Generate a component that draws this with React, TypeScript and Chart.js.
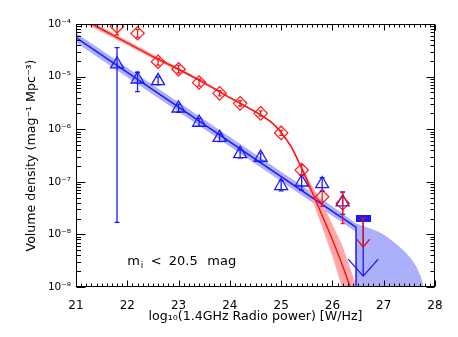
import { useEffect, useRef } from 'react';
import { Chart, registerables } from 'chart.js';

Chart.register(...registerables);

// ---------- axes ----------
const xMin = 21;
const xMax = 28;
const yMin = 1e-9;
const yMax = 1e-4;
const xTickValues = [21, 22, 23, 24, 25, 26, 27, 28];
const yTickValues = [1e-9, 1e-8, 1e-7, 1e-6, 1e-5, 1e-4];
const yTickLabels = ['10⁻⁹', '10⁻⁸', '10⁻⁷', '10⁻⁶', '10⁻⁵', '10⁻⁴'];
const xTitle = 'log₁₀(1.4GHz Radio power) [W/Hz]';
const yTitle = 'Volume density (mag⁻¹ Mpc⁻³)';

// ---------- binned measurements ----------
const binX = [21.8, 22.2, 22.6, 23.0, 23.4, 23.8, 24.2, 24.6, 25.0, 25.4, 25.8, 26.2];
const redY = [9.0e-5, 6.65e-5, 1.92e-5, 1.38e-5, 7.7e-6, 4.8e-6, 3.1e-6, 2.0e-6, 8.5e-7, 1.67e-7, 5.2e-8, 3.9e-8];
const redLo = [6.2e-5, 5.58e-5, 1.65e-5, 1.17e-5, 6.6e-6, 4.3e-6, 2.76e-6, 1.78e-6, 7.6e-7, 1.35e-7, 3.4e-8, 1.6e-8];
const redHi = [1.3e-4, 7.92e-5, 2.23e-5, 1.63e-5, 8.9e-6, 5.4e-6, 3.48e-6, 2.24e-6, 9.5e-7, 2.1e-7, 6.9e-8, 6.2e-8];
const blueY = [1.72e-5, 8.9e-6, 8.3e-6, 2.5e-6, 1.34e-6, 6.9e-7, 3.4e-7, 2.9e-7, 8.4e-8, 9.8e-8, 9.1e-8, 4.1e-8];
const blueLo = [1.7e-8, 5.2e-6, 7.0e-6, 2.1e-6, 1.13e-6, 5.8e-7, 2.85e-7, 2.4e-7, 6.7e-8, 6.9e-8, 6.6e-8, 2.4e-8];
const blueHi = [3.55e-5, 1.21e-5, 9.9e-6, 3.0e-6, 1.6e-6, 8.2e-7, 4.1e-7, 3.5e-7, 1.05e-7, 1.35e-7, 1.2e-7, 6.4e-8];

// ---------- upper limits ----------
const limitX = [26.6];
const redLimitY = [2.04e-8];
const blueLimitY = [2.04e-8];

// ---------- fitted functions ----------
const redFitX = [21.0, 21.5, 22.0, 22.5, 23.0, 23.5, 24.0, 24.5, 24.8, 25.0, 25.2, 25.4, 25.6, 25.8, 26.0, 26.2, 26.4];
const redFitY = [1.45e-4, 7.94e-5, 4.37e-5, 2.4e-5, 1.38e-5, 7.59e-6, 3.98e-6, 2.14e-6, 1.38e-6, 8.71e-7, 4.57e-7, 1.82e-7, 6.46e-8, 2.29e-8, 7.94e-9, 2.51e-9, 7.08e-10];
const redBandX = [21.0, 21.5, 22.0, 22.5, 23.0, 23.5, 24.0, 24.5, 24.8, 25.0, 25.2, 25.4, 25.6, 25.8, 26.0, 26.2, 26.4, 26.6];
const redBandHi = [1.66e-4, 8.91e-5, 4.84e-5, 2.63e-5, 1.48e-5, 8.04e-6, 4.17e-6, 2.24e-6, 1.45e-6, 9.12e-7, 4.9e-7, 2.0e-7, 8.51e-8, 3.98e-8, 1.55e-8, 5.89e-9, 1.62e-9, 4.47e-10];
const redBandLo = [1.26e-4, 7.08e-5, 3.94e-5, 2.19e-5, 1.29e-5, 7.16e-6, 3.8e-6, 2.04e-6, 1.32e-6, 8.32e-7, 4.27e-7, 1.66e-7, 4.79e-8, 1.35e-8, 3.8e-9, 8.9e-10, 2.0e-10, 5.0e-11];

const blueFitX = [21.0, 22.0, 23.0, 24.0, 25.0, 26.0, 26.46, 26.46];
const blueFitY = [5.5e-5, 1.2e-5, 2.63e-6, 5.75e-7, 1.26e-7, 2.75e-8, 1.38e-8, 1e-10];
const blueBandX = [21.0, 22.0, 23.0, 24.0, 25.0, 26.0, 26.46, 26.46, 26.9, 27.2, 27.45, 27.62, 27.72, 27.78, 27.82];
const blueBandHi = [6.76e-5, 1.48e-5, 3.24e-6, 7.08e-7, 1.55e-7, 3.39e-8, 1.62e-8, 1.62e-8, 1.12e-8, 7.1e-9, 4.3e-9, 2.6e-9, 1.6e-9, 9.5e-10, 5.0e-10];
const blueBandLo = [4.47e-5, 9.77e-6, 2.14e-6, 4.68e-7, 1.02e-7, 2.24e-8, 1.12e-8, 1e-10, 1e-10, 1e-10, 1e-10, 1e-10, 1e-10, 1e-10, 1e-10];

// ---------- annotation ----------
const noteX = 22.0;
const noteY = 2.63e-9;

const RED = 'rgb(255,20,20)';
const BLUE = 'rgb(25,25,255)';
const PINK = 'rgb(255,168,168)';
const LIGHTBLUE = 'rgb(172,176,250)';
const FONT = '"DejaVu Sans", sans-serif';

const pts = (xs: number[], ys: number[]) => xs.map((x, i) => ({ x, y: ys[i] }));

const decorations = {
  id: 'decorations',
  afterDatasetsDraw(chart: any) {
    const { ctx, chartArea: a } = chart;
    const xs = chart.scales.x;
    const ys = chart.scales.y;
    ctx.save();
    ctx.beginPath();
    ctx.rect(a.left, a.top, a.right - a.left, a.bottom - a.top);
    ctx.clip();
    const errs = (lo: number[], hi: number[], color: string, cap: number) => {
      ctx.strokeStyle = color;
      ctx.lineWidth = 1.3;
      binX.forEach((xv, i) => {
        const px = xs.getPixelForValue(xv);
        const p1 = ys.getPixelForValue(lo[i]);
        const p2 = ys.getPixelForValue(hi[i]);
        ctx.beginPath();
        ctx.moveTo(px, p1);
        ctx.lineTo(px, p2);
        ctx.moveTo(px - cap, p1);
        ctx.lineTo(px + cap, p1);
        ctx.moveTo(px - cap, p2);
        ctx.lineTo(px + cap, p2);
        ctx.stroke();
      });
    };
    errs(blueLo, blueHi, BLUE, 2.5);
    errs(redLo, redHi, RED, 2);

    const arrow = (xv: number, yv: number, color: string, len: number, hw: number, hh: number, cap: number) => {
      const px = xs.getPixelForValue(xv);
      const py = ys.getPixelForValue(yv);
      ctx.strokeStyle = color;
      ctx.lineWidth = 1.3;
      ctx.beginPath();
      ctx.moveTo(px, py);
      ctx.lineTo(px, py + len);
      ctx.moveTo(px - hw, py + len - hh);
      ctx.lineTo(px, py + len);
      ctx.lineTo(px + hw, py + len - hh);
      if (cap > 0) {
        ctx.moveTo(px - cap, py);
        ctx.lineTo(px + cap, py);
      }
      ctx.stroke();
    };
    limitX.forEach((xv, i) => {
      arrow(xv, blueLimitY[i], BLUE, 58, 15, 17, 0);
      arrow(xv, redLimitY[i], 'rgb(220,20,20)', 29, 6.5, 8, 3.5);
    });
    ctx.restore();
  },
  afterDraw(chart: any) {
    const { ctx, chartArea: a } = chart;
    const xs = chart.scales.x;
    const ys = chart.scales.y;
    ctx.save();
    ctx.strokeStyle = '#000';
    ctx.lineWidth = 1;
    const L = Math.round(a.left) + 0.5;
    const R = Math.round(a.right) - 0.5;
    const T = Math.round(a.top) + 0.5;
    const B = Math.round(a.bottom) - 0.5;
    ctx.strokeRect(L, T, R - L, B - T);
    ctx.beginPath();
    // x ticks (major + 10 minor intervals)
    for (let k = 0; k < xTickValues.length; k++) {
      const v = xTickValues[k];
      const steps = k < xTickValues.length - 1 ? 10 : 1;
      for (let m = 0; m < steps; m++) {
        const val = v + (m * (xTickValues[1] - xTickValues[0])) / 10;
        const p = Math.round(xs.getPixelForValue(val)) + 0.5;
        const len = m === 0 ? 6 : 3;
        ctx.moveTo(p, B);
        ctx.lineTo(p, B - len);
        ctx.moveTo(p, T);
        ctx.lineTo(p, T + len);
      }
    }
    // y ticks (decades + 2..9 minors)
    yTickValues.forEach((d, k) => {
      const p = Math.round(ys.getPixelForValue(d)) + 0.5;
      ctx.moveTo(L, p);
      ctx.lineTo(L + 9, p);
      ctx.moveTo(R, p);
      ctx.lineTo(R - 8, p);
      if (k < yTickValues.length - 1) {
        for (let m = 2; m <= 9; m++) {
          const q = Math.round(ys.getPixelForValue(d * m)) + 0.5;
          ctx.moveTo(L, q);
          ctx.lineTo(L + 4.5, q);
          ctx.moveTo(R, q);
          ctx.lineTo(R - 4, q);
        }
      }
    });
    ctx.stroke();

    // annotation m_i < 20.5 mag
    const nx = xs.getPixelForValue(noteX);
    const ny = ys.getPixelForValue(noteY);
    ctx.fillStyle = '#000';
    ctx.textAlign = 'left';
    ctx.textBaseline = 'alphabetic';
    ctx.font = `13px ${FONT}`;
    ctx.fillText('m', nx, ny);
    ctx.fillText('<', nx + 23.5, ny);
    ctx.fillText('20.5', nx + 41.5, ny);
    ctx.fillText('mag', nx + 80, ny);
    ctx.font = `9px ${FONT}`;
    ctx.fillText('i', nx + 13.5, ny + 3);
    ctx.restore();
  },
};

export default function App() {
  const canvasRef = useRef<HTMLCanvasElement | null>(null);

  useEffect(() => {
    if (!canvasRef.current) return;
    Chart.defaults.font.family = FONT;

    const rectMark = document.createElement('canvas');
    rectMark.width = 15;
    rectMark.height = 7;
    const rc = rectMark.getContext('2d');
    if (rc) {
      rc.fillStyle = BLUE;
      rc.fillRect(0, 0, 15, 7);
    }

    const chart = new Chart(canvasRef.current, {
      type: 'scatter',
      data: {
        datasets: [
          {
            label: 'blue band hi', data: pts(blueBandX, blueBandHi), showLine: true, fill: '+1',
            backgroundColor: LIGHTBLUE, borderWidth: 0, pointRadius: 0, tension: 0.35, order: 7,
          },
          {
            label: 'blue band lo', data: pts(blueBandX, blueBandLo), showLine: true, fill: false,
            borderWidth: 0, pointRadius: 0, order: 7,
          },
          {
            label: 'red band hi', data: pts(redBandX, redBandHi), showLine: true, fill: '+1',
            backgroundColor: PINK, borderWidth: 0, pointRadius: 0, order: 6,
          },
          {
            label: 'red band lo', data: pts(redBandX, redBandLo), showLine: true, fill: false,
            borderWidth: 0, pointRadius: 0, order: 6,
          },
          {
            label: 'blue fit', data: pts(blueFitX, blueFitY), showLine: true, fill: false,
            borderColor: BLUE, borderWidth: 1.5, pointRadius: 0, order: 5,
          },
          {
            label: 'red fit', data: pts(redFitX, redFitY), showLine: true, fill: false,
            borderColor: RED, borderWidth: 1.5, pointRadius: 0, tension: 0.2, order: 4,
          },
          {
            label: 'blue', data: pts(binX, blueY), pointStyle: 'triangle', pointRadius: 7.5,
            borderColor: BLUE, backgroundColor: 'rgba(0,0,0,0)', pointBorderWidth: 1.3, order: 3,
          },
          {
            label: 'red', data: pts(binX, redY), pointStyle: 'rectRot', pointRadius: 6.7,
            borderColor: RED, backgroundColor: 'rgba(0,0,0,0)', pointBorderWidth: 1.2, order: 2,
          },
          {
            label: 'blue limit', data: pts(limitX, blueLimitY), pointStyle: rectMark, pointRadius: 7,
            order: 1,
          },
        ],
      },
      options: {
        animation: false,
        responsive: false,
        events: [],
        layout: { padding: { left: 0, right: 23, top: 24, bottom: 0 } },
        plugins: { legend: { display: false }, tooltip: { enabled: false } },
        scales: {
          x: {
            type: 'linear', min: xMin, max: xMax,
            afterBuildTicks: (s: any) => { s.ticks = xTickValues.map((v) => ({ value: v })); },
            afterFit: (s: any) => { s.height = 50; },
            ticks: { font: { size: 12 }, color: '#000', padding: 12, maxRotation: 0, autoSkip: false },
            grid: { display: false, drawTicks: false },
            border: { display: false },
            title: { display: true, text: xTitle, color: '#000', font: { size: 12.6 }, padding: { top: 0, bottom: 12.5 } },
          },
          y: {
            type: 'logarithmic', min: yMin, max: yMax,
            afterBuildTicks: (s: any) => { s.ticks = yTickValues.map((v) => ({ value: v })); },
            afterFit: (s: any) => { s.width = 76; },
            ticks: {
              font: { size: 10.5 }, color: '#000', padding: 5, autoSkip: false,
              callback: (v: any) => {
                const i = yTickValues.findIndex((t) => Math.abs(Math.log10(t) - Math.log10(Number(v))) < 1e-6);
                return i >= 0 ? yTickLabels[i] : '';
              },
            },
            grid: { display: false, drawTicks: false },
            border: { display: false },
            title: { display: true, text: yTitle, color: '#000', font: { size: 12.6 }, padding: { top: 24, bottom: 0 } },
          },
        },
      },
      plugins: [decorations],
    } as any);

    return () => chart.destroy();
  }, []);

  return (
    <div style={{ position: 'absolute', left: 0, top: 0, width: 458, height: 337, background: '#fff' }}>
      <canvas ref={canvasRef} width={458} height={337} />
    </div>
  );
}
